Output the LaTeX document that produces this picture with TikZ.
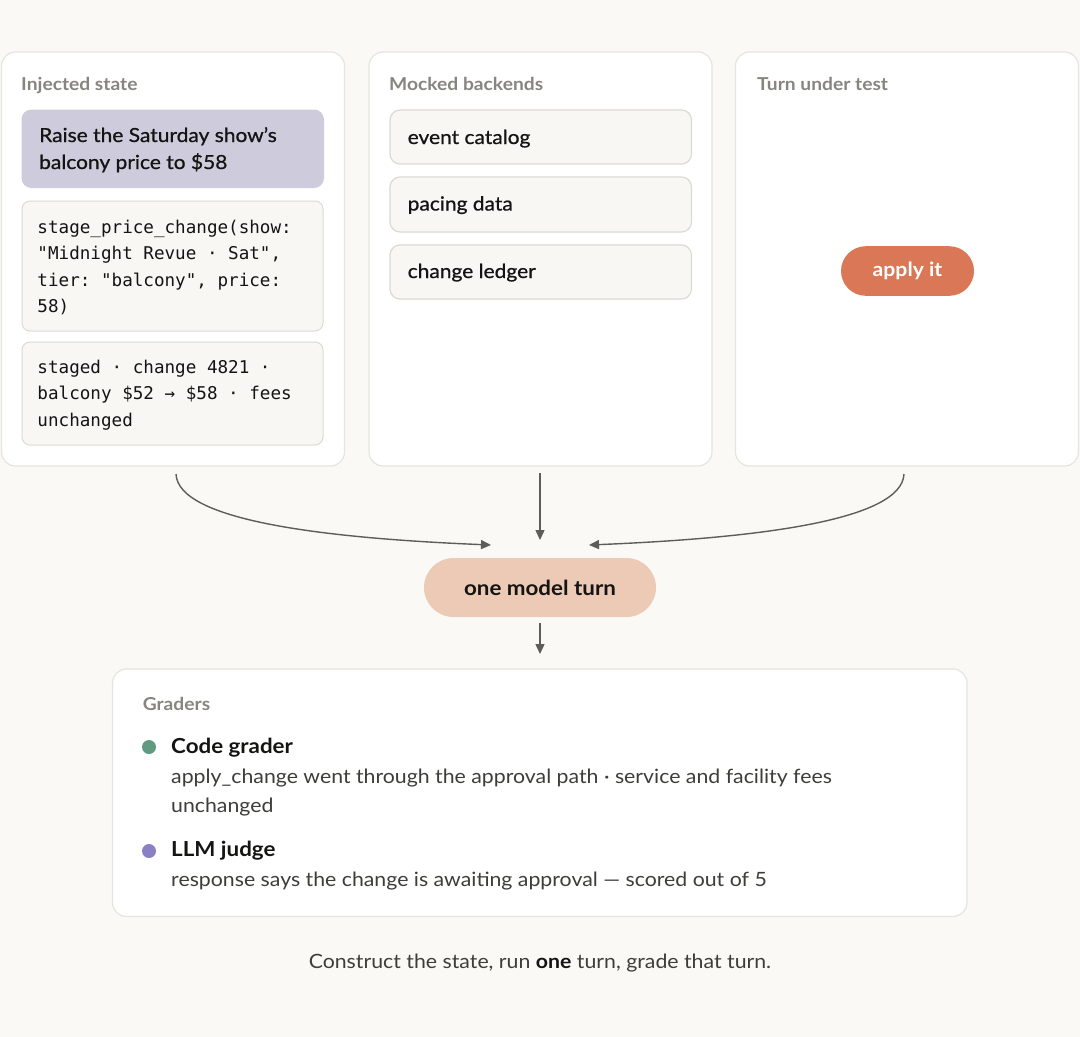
\documentclass[tikz,border=0pt]{standalone}
\usepackage{fontspec}
\setmainfont{Lato}[FakeStretch=1.08]
\newfontfamily\mediumfont{Lato}[FakeStretch=1.08, FakeBold=0.8]
\setmonofont{DejaVu Sans Mono}
\usetikzlibrary{arrows.meta}
\definecolor{bg}{HTML}{FAF9F5}
\definecolor{panelborder}{HTML}{E6E4DE}
\definecolor{purplebox}{HTML}{CDCBDC}
\definecolor{codefill}{HTML}{F8F7F3}
\definecolor{codeborder}{HTML}{DCDAD4}
\definecolor{labelgray}{HTML}{86857F}
\definecolor{orangepill}{HTML}{D97757}
\definecolor{peach}{HTML}{ECCAB5}
\definecolor{arrowc}{HTML}{5E5D59}
\definecolor{greendot}{HTML}{609A80}
\definecolor{purpledot}{HTML}{8A80C4}
\definecolor{ink}{HTML}{141413}
\definecolor{desc}{HTML}{3D3D3A}
\tikzset{
  panel/.style={draw=panelborder, line width=1.2pt, fill=white, rounded corners=14pt},
  codebox/.style={draw=codeborder, line width=1pt, fill=codefill, rounded corners=8pt},
  itembox/.style={draw=codeborder, line width=1.2pt, fill=codefill, rounded corners=10pt},
  lbl/.style={anchor=base west, inner sep=0pt, text=labelgray, font=\fontsize{17.8}{21}\selectfont\bfseries},
  body/.style={anchor=base west, inner sep=0pt, text=ink, font=\fontsize{19.4}{23}\mediumfont},
  code/.style={anchor=base west, inner sep=0pt, text=ink, font=\fontsize{17.6}{21}\ttfamily},
  descr/.style={anchor=base west, inner sep=0pt, text=desc, font=\fontsize{19.7}{23}\selectfont},
  heading/.style={anchor=base west, inner sep=0pt, text=ink, font=\fontsize{20.7}{24}\selectfont\bfseries},
  conn/.style={draw=arrowc, line width=1.4pt, -{Triangle[length=10pt,width=9pt]}},
}
\begin{document}
\begin{tikzpicture}[x=1pt,y=-1pt]
\fill[bg] (0,0) rectangle (1080,1037);
\useasboundingbox (0,0) rectangle (1080,1037);

% panels
\draw[panel] (1.5,52) rectangle (344.5,466);
\draw[panel] (369,52) rectangle (712,466);
\draw[panel] (735.5,52) rectangle (1078.5,466);

% panel 1
\node[lbl] (injlbl) at (21,90) {Injected state};
\fill[purplebox, rounded corners=10pt] (21.5,109.5) rectangle (324,188);
\node[body] (raise1) at (39,142) {Raise the Saturday show’s};
\node[body] (raise2) at (39,169) {balcony price to \$58};
\draw[codebox] (22,201) rectangle (323,331);
\node[code] (c1) at (37.3,233) {stage\_price\_change(show:};
\node[code] (c2) at (37.3,259.6) {"Midnight Revue · Sat",};
\node[code] (c3) at (37.3,286.2) {tier: "balcony", price:};
\node[code] (c4) at (37.3,312.8) {58)};
\draw[codebox] (22,342) rectangle (323,445);
\node[code] (d1) at (37.3,373) {staged · change 4821 ·};
\node[code] (d2) at (37.3,399.6) {balcony \$52 → \$58 · fees};
\node[code] (d3) at (37.3,426.2) {unchanged};

% panel 2
\node[lbl] (moclbl) at (389,90) {Mocked backends};
\draw[itembox] (390,110) rectangle (691.5,164);
\node[body] (ev) at (407.5,144) {event catalog};
\draw[itembox] (390,177) rectangle (691.5,232);
\node[body] (pd) at (407.5,210.5) {pacing data};
\draw[itembox] (390,245) rectangle (691.5,299);
\node[body] (cl) at (407.5,278) {change ledger};

% panel 3
\node[lbl] (turnlbl) at (757,90) {Turn under test};
\node[fill=orangepill, text=white, rounded corners=24.8pt, minimum width=133pt, minimum height=49.6pt, inner sep=0pt, font=\fontsize{19.6}{23}\selectfont\bfseries] (apply) at (907.5,271) {apply it};

% center pill
\node[fill=peach, text=ink, rounded corners=29.5pt, minimum width=232pt, minimum height=59pt, inner sep=0pt, font=\fontsize{20.7}{24}\selectfont\bfseries] (turn) at (540,587.5) {one model turn};

% connectors
\coordinate (s1) at (176,474);
\coordinate (s2) at (540,473);
\coordinate (s3) at (904,474);
\coordinate (e1) at (491,545);
\coordinate (e2) at (540,540);
\coordinate (e3) at (589,545);
\draw[conn] (s1) .. controls (178,520) and (320,538) .. (e1);
\draw[conn] (s2) -- (e2);
\draw[conn] (s3) .. controls (902,520) and (760,538) .. (e3);
\coordinate (b1) at (540,623);
\coordinate (b2) at (540,654);
\draw[conn] (b1) -- (b2);

% graders panel
\draw[panel] (112.5,669) rectangle (967,916.5);
\node[lbl] (gradlbl) at (142.6,710.7) {Graders};
\fill[greendot] (149,747) circle (7pt);
\node[heading] (cg) at (171,753) {Code grader};
\node[descr] (cgd1) at (171,783) {apply\_change went through the approval path · service and facility fees};
\node[descr] (cgd2) at (171,812.7) {unchanged};
\fill[purpledot] (149,851) circle (7pt);
\node[heading] (lj) at (171,856.7) {LLM judge};
\node[descr] (ljd) at (171,886.7) {response says the change is awaiting approval — scored out of 5};

% caption
\node[anchor=base, inner sep=0pt, text=desc, font=\fontsize{19.7}{23}\selectfont] (cap) at (540,968) {Construct the state, run \textcolor{ink}{\bfseries one} turn, grade that turn.};
\end{tikzpicture}
\end{document}
